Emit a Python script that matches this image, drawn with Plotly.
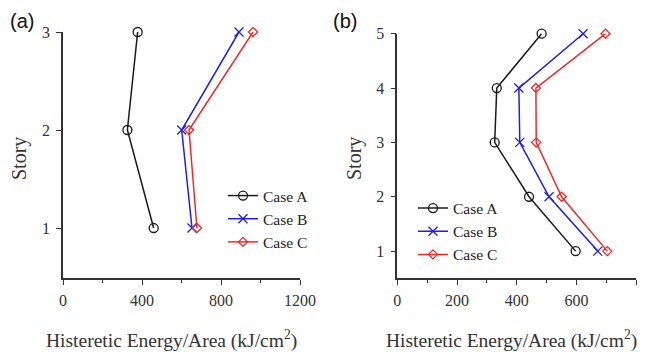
import plotly.graph_objects as go

# Panel (a): 3-story
stories_a = [1, 2, 3]
a_caseA = [459, 326, 378]
a_caseB = [653, 601, 891]
a_caseC = [678, 638, 962]

# Panel (b): 5-story
stories_b = [1, 2, 3, 4, 5]
b_caseA = [597, 441, 326, 333, 483]
b_caseB = [671, 508, 410, 407, 622]
b_caseC = [703, 550, 465, 464, 697]

case_names = ["Case A", "Case B", "Case C"]
colors = ["#1a1a1a", "#1f1fe0", "#ee2a2a"]
symbols = ["circle-open", "x-thin-open", "diamond-open"]
msizes = [9, 9, 7]

# The page body adds an 8px offset; the figure paper is placed accordingly.
OFF = 8
W, H = 648 - OFF, 352 - OFF
SERIF = "Liberation Serif"
SANS = "Liberation Sans"

fig = go.Figure()

for vals, name, c, s, ms in zip([a_caseA, a_caseB, a_caseC], case_names, colors, symbols, msizes):
    fig.add_trace(go.Scatter(x=vals, y=stories_a, mode="lines+markers", name=name,
                             line=dict(color=c, width=1.5),
                             marker=dict(symbol=s, size=ms, color=c, line=dict(color=c, width=1.3)),
                             xaxis="x", yaxis="y", legend="legend", cliponaxis=False))
for vals, name, c, s, ms in zip([b_caseA, b_caseB, b_caseC], case_names, colors, symbols, msizes):
    fig.add_trace(go.Scatter(x=vals, y=stories_b, mode="lines+markers", name=name,
                             line=dict(color=c, width=1.5),
                             marker=dict(symbol=s, size=ms, color=c, line=dict(color=c, width=1.3)),
                             xaxis="x2", yaxis="y2", legend="legend2", cliponaxis=False))

axis_common = dict(showgrid=False, zeroline=False, showline=True, linecolor="#333333", linewidth=1.5,
                   ticks="outside", ticklen=5, tickcolor="#333333", tickwidth=1.2, automargin=False,
                   tickfont=dict(family=SERIF, size=16, color="#333333"))

def px2x(p):
    return (p - OFF) / W

def px2y(p):
    return 1 - (p - OFF) / H

fig.update_layout(
    width=W, height=H, autosize=False,
    margin=dict(l=0, r=0, t=0, b=0, pad=0, autoexpand=False),
    font=dict(family=SERIF, color="#333333"),
    paper_bgcolor="white", plot_bgcolor="white",
    xaxis=dict(domain=[px2x(63), px2x(300)], range=[0, 1200], tickvals=[0, 400, 800, 1200],
               minor=dict(tickvals=[200, 600, 1000], ticks="outside", ticklen=3, tickcolor="#333333"),
               anchor="y", ticklabelstandoff=2, **axis_common),
    yaxis=dict(domain=[px2y(278), px2y(32)], range=[0.49, 3.0], tickvals=[1, 2, 3],
               anchor="x", ticklabelstandoff=3, **axis_common),
    xaxis2=dict(domain=[px2x(397.3), px2x(636.3)], range=[0, 800], tickvals=[0, 200, 400, 600, 800],
                minor=dict(tickvals=[100, 300, 500, 700], ticks="outside", ticklen=3, tickcolor="#333333"),
                anchor="y2", ticklabelstandoff=2, **axis_common),
    yaxis2=dict(domain=[px2y(278.3), px2y(33.7)], range=[0.5, 5.0], tickvals=[1, 2, 3, 4, 5],
                anchor="x2", ticklabelstandoff=3, **axis_common),
    legend=dict(x=px2x(223), y=px2y(179), xanchor="left", yanchor="top",
                font=dict(family=SERIF, size=15.5, color="#222222"), bgcolor="rgba(0,0,0,0)",
                tracegroupgap=0, itemwidth=30),
    legend2=dict(x=px2x(413), y=px2y(191.5), xanchor="left", yanchor="top",
                 font=dict(family=SERIF, size=15.5, color="#222222"), bgcolor="rgba(0,0,0,0)",
                 tracegroupgap=0, itemwidth=30),
    showlegend=True,
)

ann = []
ann.append(dict(text="(a)", x=px2x(8), y=px2y(21), xref="paper", yref="paper", xanchor="left", yanchor="middle",
                showarrow=False, font=dict(family=SANS, size=20, color="#111111")))
ann.append(dict(text="(b)", x=px2x(331), y=px2y(21), xref="paper", yref="paper", xanchor="left", yanchor="middle",
                showarrow=False, font=dict(family=SANS, size=20, color="#111111")))
for cx in [171, 511]:
    ann.append(dict(text="Histeretic Energy/Area (kJ/cm<sup>2</sup>)", x=px2x(cx), y=px2y(339),
                    xref="paper", yref="paper", xanchor="center", yanchor="middle", showarrow=False,
                    font=dict(family=SERIF, size=19.5, color="#333333")))
for sx in [19, 354]:
    ann.append(dict(text="Story", x=px2x(sx), y=px2y(159), xref="paper", yref="paper", textangle=-90,
                    xanchor="center", yanchor="middle", showarrow=False,
                    font=dict(family=SERIF, size=20, color="#333333")))
fig.update_layout(annotations=ann)

fig.write_html("out.html")
